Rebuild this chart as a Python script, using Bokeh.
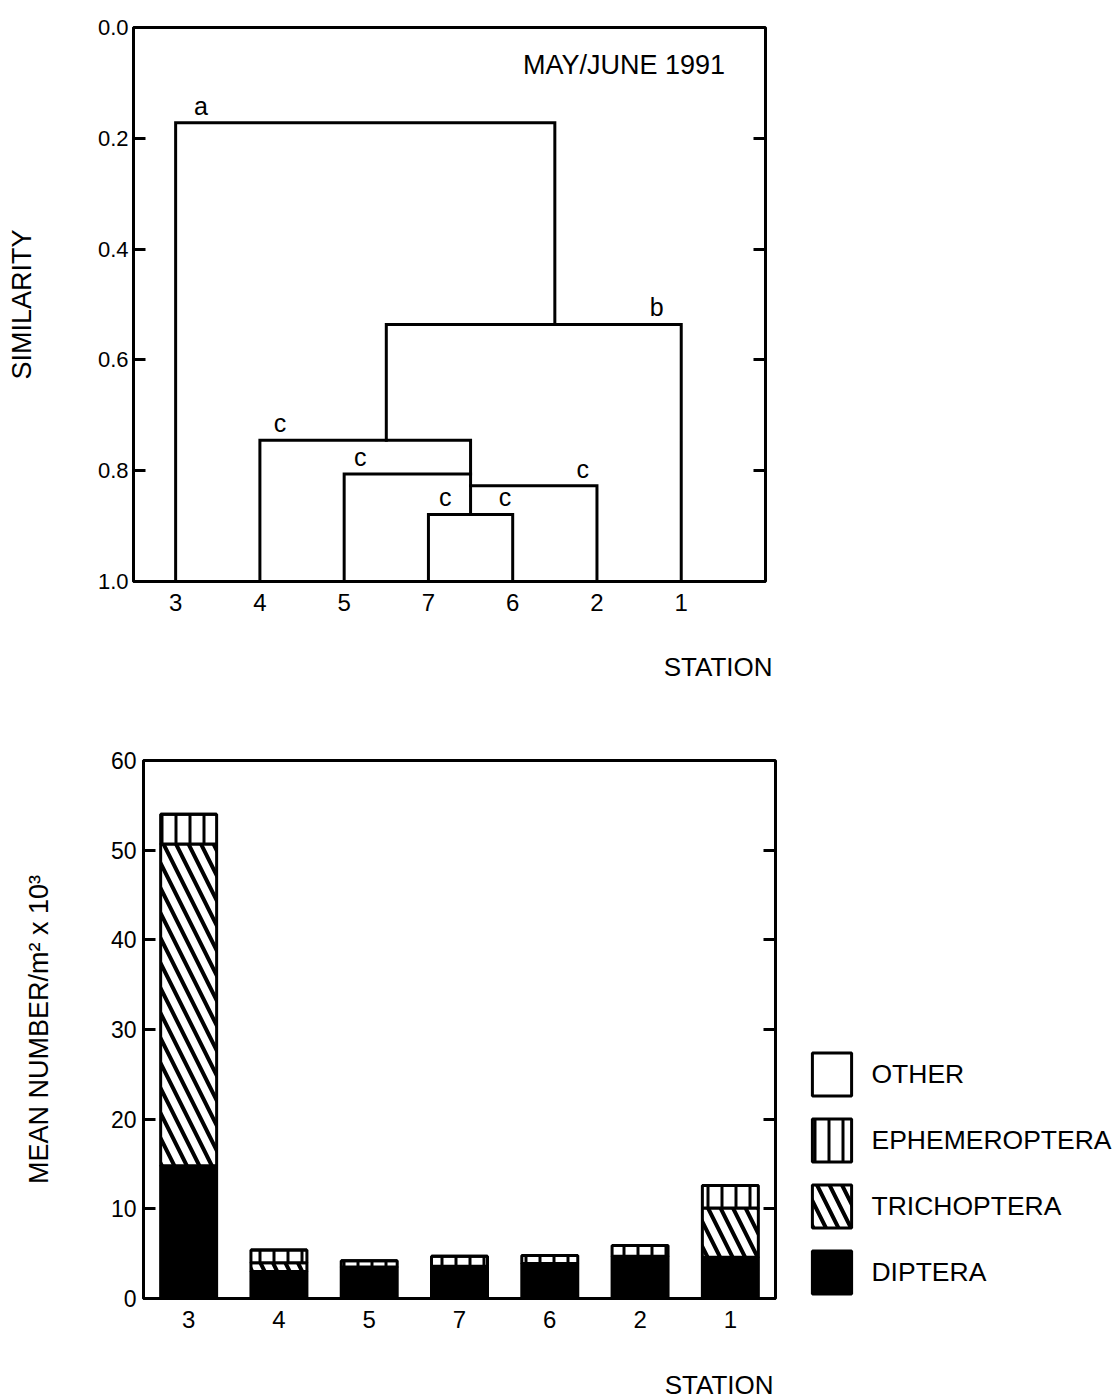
from bokeh.core.properties import value
from bokeh.embed import file_html
from bokeh.layouts import column
from bokeh.models import (ColumnDataSource, FixedTicker, Legend, LegendItem,
                          LinearAxis, Range1d, Title)
from bokeh.plotting import figure
from bokeh.resources import INLINE

# ---------------------------------------------------------------- data
# Stations in the order used on both horizontal axes
stations = ["3", "4", "5", "7", "6", "2", "1"]

# Mean number per m^2 (x 10^3) by taxon, May/June 1991
diptera = [14.8, 3.0, 3.5, 3.6, 3.9, 4.7, 4.6]
trichoptera = [35.9, 1.0, 0.0, 0.0, 0.0, 0.0, 5.5]
ephemeroptera = [3.3, 1.4, 0.7, 1.1, 0.9, 1.2, 2.5]
other = [0.0, 0.0, 0.0, 0.0, 0.0, 0.0, 0.0]

# Cluster analysis: each merge joins two members at a similarity level.
# Clusters created by earlier merges are called C1, C2, ...
merge_left = ["7", "C1", "5", "4", "C4", "3"]
merge_right = ["6", "2", "C2", "C3", "1", "C5"]
merge_similarity = [0.879, 0.827, 0.806, 0.745, 0.536, 0.172]

# Group letters and the merge each one marks
group_letters = ["c", "c", "c", "c", "c", "b", "a"]
letter_merge = [0, 0, 1, 2, 3, 4, 5]

# ---------------------------------------------------------------- styling
FONT = "Liberation Sans"
INK = "black"

station_x = {s: i + 1 for i, s in enumerate(stations)}
tick_overrides = {i + 1: s for i, s in enumerate(stations)}

# horizontal place where each new cluster's stem rises
stem_x = [4.5, 4.5, 4.5, 3.5, 5.5, 3.0]
# horizontal place of each group letter
letter_x = [4.20, 4.91, 5.83, 3.19, 2.24, 6.71, 1.30]


def style_axis(ax, size):
    ax.axis_line_color = INK
    ax.axis_line_width = 3
    ax.major_tick_line_color = INK
    ax.major_tick_line_width = 3
    ax.minor_tick_line_color = None
    ax.major_label_text_font = FONT
    ax.major_label_text_font_size = size
    ax.major_label_text_color = INK
    ax.axis_label_text_font = FONT
    ax.axis_label_text_font_style = "normal"
    ax.axis_label_text_color = INK


def frame_style(p):
    p.grid.visible = False
    p.outline_line_color = INK
    p.outline_line_width = 3
    p.background_fill_color = "white"
    p.border_fill_color = "white"


def inner_ticks(p, at, ticks, size):
    """Tick marks pointing into the frame along its right edge."""
    ax = LinearAxis(ticker=FixedTicker(ticks=ticks), fixed_location=at)
    style_axis(ax, size)
    ax.major_label_text_color = None
    ax.major_tick_in = 12
    ax.major_tick_out = 0
    p.add_layout(ax, "right")
    return ax


def station_title(p, offset, standoff):
    """Right-aligned 'STATION' caption under the station axis."""
    p.add_layout(Title(text="STATION", align="right", offset=offset,
                       vertical_align="top", standoff=standoff,
                       text_font=FONT, text_font_size="26px",
                       text_font_style="normal", text_color=INK), "below")


# ================================================================ dendrogram
top = figure(frame_width=632, frame_height=554,
             x_range=Range1d(0.5, 8.0), y_range=Range1d(1.0, 0.0),
             min_border_left=133, min_border_right=355,
             min_border_top=27, min_border_bottom=150,
             frame_align=False,
             output_backend="svg", toolbar_location=None)
frame_style(top)

sim_ticks = [0.0, 0.2, 0.4, 0.6, 0.8, 1.0]
yax = top.yaxis[0]
yax.ticker = FixedTicker(ticks=sim_ticks)
yax.major_label_overrides = {t: f"{t:.1f}" for t in sim_ticks}
style_axis(yax, "22px")
yax.major_tick_in = 12
yax.major_tick_out = 0
yax.major_label_standoff = 5
yax.axis_label = "SIMILARITY"
yax.axis_label_text_font_size = "27px"
yax.axis_label_standoff = 58

xax = top.xaxis[0]
xax.ticker = FixedTicker(ticks=list(station_x.values()))
xax.major_label_overrides = tick_overrides
style_axis(xax, "24px")
xax.major_tick_in = 0
xax.major_tick_out = 0
xax.major_label_standoff = 12
station_title(top, -7, 76)

inner_ticks(top, 8.0, [0.2, 0.4, 0.6, 0.8], "22px")

# build one bracket path per merge
level = {s: 1.0 for s in stations}
node_x = dict(station_x)
xs, ys = [], []
for i, (lft, rgt, sim) in enumerate(zip(merge_left, merge_right, merge_similarity)):
    xs.append([node_x[lft], node_x[lft], node_x[rgt], node_x[rgt]])
    ys.append([level[lft], sim, sim, level[rgt]])
    name = f"C{i + 1}"
    level[name] = sim
    node_x[name] = stem_x[i]

top.multi_line(xs=xs, ys=ys, line_color=INK, line_width=3,
               line_join="miter", line_cap="square")

letters = ColumnDataSource(dict(
    x=letter_x,
    y=[merge_similarity[m] for m in letter_merge],
    text=group_letters,
))
top.text(x="x", y="y", text="text", source=letters,
         text_font=value(FONT), text_font_size="25px", text_color=INK,
         text_align="center", text_baseline="middle", y_offset=-17)

season = ColumnDataSource(dict(x=[7.52], y=[0.067], text=["MAY/JUNE 1991"]))
top.text(x="x", y="y", text="text", source=season,
         text_font=value(FONT), text_font_size="27px", text_color=INK,
         text_align="right", text_baseline="middle")

# ================================================================ stacked bars
bot = figure(frame_width=632, frame_height=538,
             x_range=Range1d(0.5, 7.5), y_range=Range1d(0, 60),
             min_border_left=143, min_border_right=5,
             min_border_top=29, min_border_bottom=101,
             frame_align=False,
             output_backend="svg", toolbar_location=None)
frame_style(bot)

byax = bot.yaxis[0]
byax.ticker = FixedTicker(ticks=[0, 10, 20, 30, 40, 50, 60])
style_axis(byax, "23px")
byax.major_tick_in = 12
byax.major_tick_out = 0
byax.major_label_standoff = 7
byax.axis_label = "MEAN NUMBER/m\u00b2 x 10\u00b3"
byax.axis_label_text_font_size = "27px"
byax.axis_label_standoff = 54

bxax = bot.xaxis[0]
bxax.ticker = FixedTicker(ticks=list(station_x.values()))
bxax.major_label_overrides = tick_overrides
style_axis(bxax, "24px")
bxax.major_tick_in = 0
bxax.major_tick_out = 0
bxax.major_label_standoff = 12
station_title(bot, 2, 78)

inner_ticks(bot, 7.5, [10, 20, 30, 40, 50], "23px")

bars = ColumnDataSource(dict(
    x=[station_x[s] for s in stations],
    diptera=diptera,
    trichoptera=trichoptera,
    ephemeroptera=ephemeroptera,
    other=other,
))
layers = ["diptera", "trichoptera", "ephemeroptera", "other"]
stack = bot.vbar_stack(
    layers, x="x", width=0.62, source=bars,
    fill_color=[INK, "white", "white", "white"],
    line_color=INK, line_width=3,
    hatch_pattern=[" ", "\\", "|", " "],
    hatch_color=INK,
    hatch_scale=[12, 25, 14, 12],
    hatch_weight=[1, 4, 3, 1],
)
by_layer = dict(zip(layers, stack))

legend = Legend(
    items=[
        LegendItem(label="OTHER", renderers=[by_layer["other"]]),
        LegendItem(label="EPHEMEROPTERA", renderers=[by_layer["ephemeroptera"]]),
        LegendItem(label="TRICHOPTERA", renderers=[by_layer["trichoptera"]]),
        LegendItem(label="DIPTERA", renderers=[by_layer["diptera"]]),
    ],
    location=(-193, -1),
    glyph_width=49, glyph_height=54, spacing=12, label_standoff=15,
    padding=0, margin=0,
    border_line_color=None, background_fill_alpha=0,
    label_text_font=FONT, label_text_font_size="26.5px",
    label_text_color=INK,
)
bot.add_layout(legend, "right")

page = column(top, bot, spacing=0)
with open("out.html", "w") as f:
    f.write(file_html(page, INLINE))
